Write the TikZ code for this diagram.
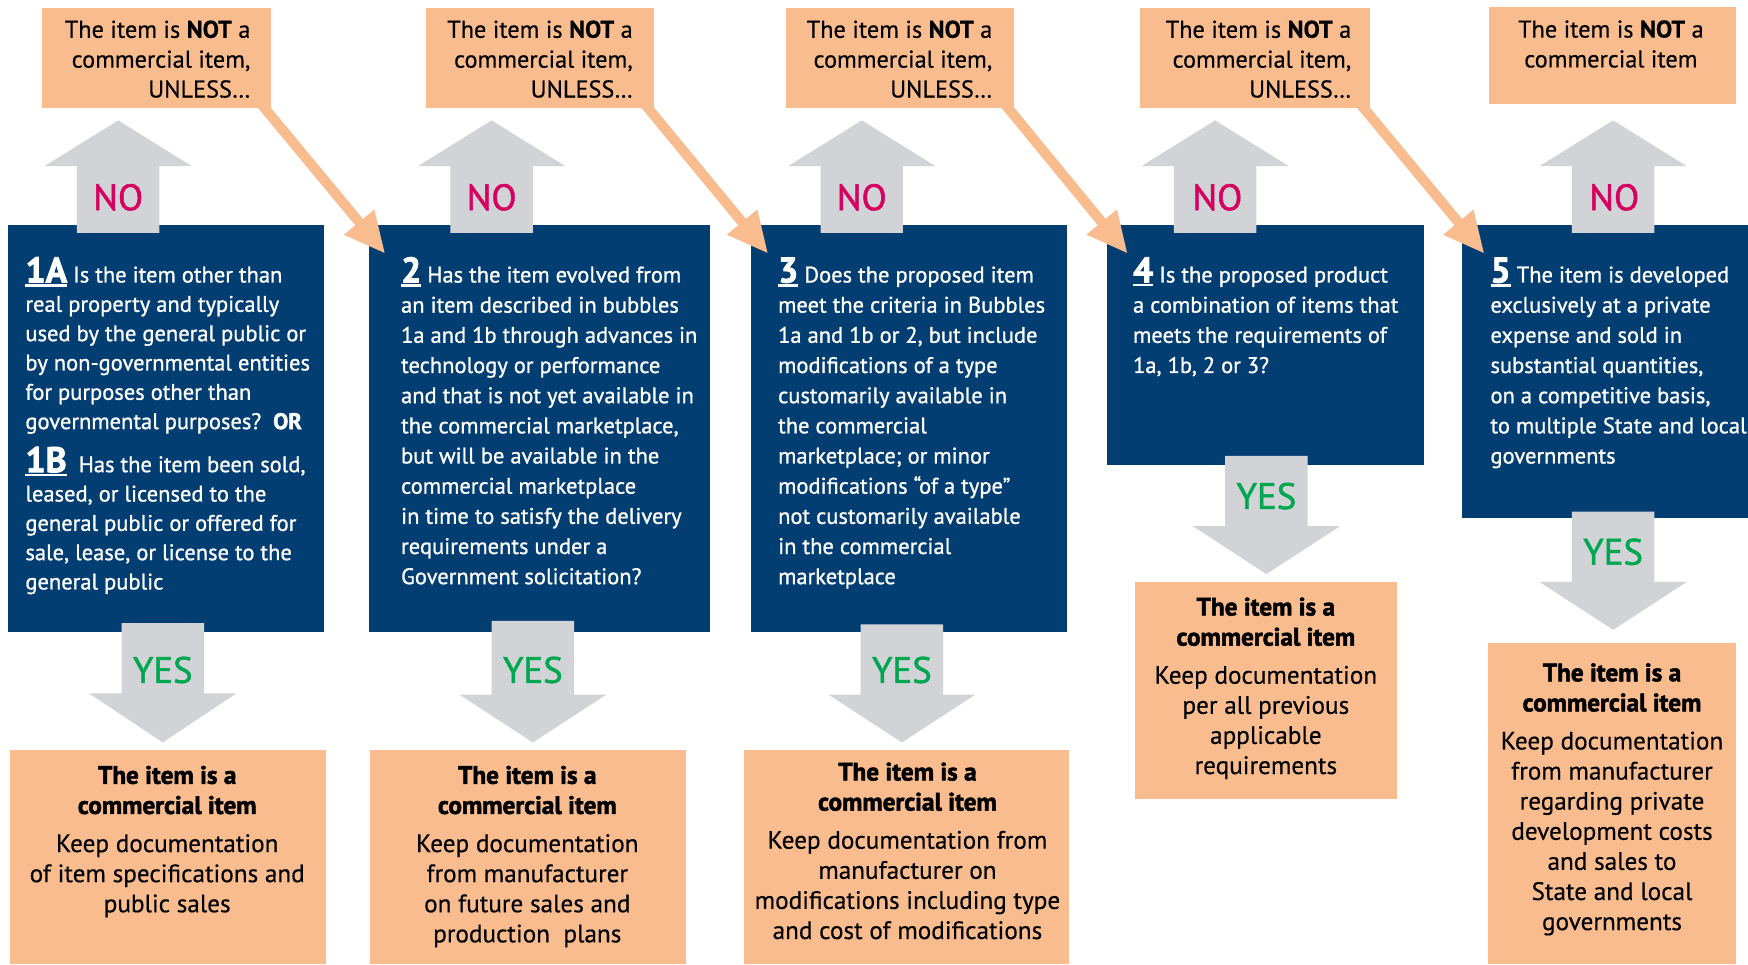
\documentclass[tikz,border=0pt]{standalone}
\usepackage{fontspec}
\setmainfont{PT Sans}
\newfontfamily\medf{PT Sans}[FakeBold=0.35]
\newfontfamily\semi{PT Sans}[FakeBold=0.9]
\newfontfamily\labf{PT Sans}[FakeBold=1.3]
\newfontfamily\heavy{PT Sans}[FakeBold=2]
\usetikzlibrary{arrows.meta,fit}
\definecolor{navy}{RGB}{3,62,115}
\definecolor{peach}{RGB}{248,188,142}
\definecolor{arrowgray}{RGB}{209,211,214}
\definecolor{nomag}{RGB}{214,0,96}
\definecolor{yesgreen}{RGB}{0,166,80}
\newcommand\ulnum[1]{{\heavy\bfseries\fontsize{16}{16}\selectfont\setbox0\hbox{#1}\rlap{\rule[-1.8pt]{\wd0}{1.1pt}}\box0}}
\newcommand\hd[1]{{\heavy\bfseries #1}}
\newcommand\tp{\rule{0pt}{12pt}}
\newcommand\grayup[4]{\fill[arrowgray] (#1,#2) -- (#1+66,#3) -- (#1+37,#3) -- (#1+37,#4) -- (#1-37,#4) -- (#1-37,#3) -- (#1-66,#3) -- cycle;}
\newcommand\graydown[4]{\fill[arrowgray] (#1-37,#2) -- (#1+37,#2) -- (#1+37,#3) -- (#1+66,#3) -- (#1,#4) -- (#1-66,#3) -- (#1-37,#3) -- cycle;}
\tikzset{
  qbox/.style={fill=navy, inner sep=0pt, draw=none},
  pbox/.style={fill=peach, inner sep=0pt, draw=none},
  qtext/.style={text=white, align=left, inner sep=0pt, anchor=north west, font=\semi\fontsize{10.1}{13.53}\selectfont},
  ntext/.style={text=black, inner sep=0pt, font=\medf\fontsize{10.9}{13.4}\selectfont},
  rtext/.style={text=black, align=center, inner sep=0pt, anchor=north, font=\medf\fontsize{11.3}{13.5}\selectfont},
  nolab/.style={text=nomag, inner sep=0pt, font=\labf\fontsize{16.5}{16.5}\selectfont},
  yeslab/.style={text=yesgreen, inner sep=0pt, font=\labf\fontsize{16.5}{16.5}\selectfont},
  diag/.style={draw=peach, line width=4.5pt, -{Triangle[length=18.4pt,width=16.3pt]}}
}
\begin{document}
\begin{tikzpicture}[x=0.5pt,y=-0.5pt]
\useasboundingbox (0,0) rectangle (1568,865);
% question boxes
\node[qbox, fit={(7,202) (291,567)}] (q1) {};
\node[qbox, fit={(331,202) (637,567)}] (q2) {};
\node[qbox, fit={(673.5,202) (957,567)}] (q3) {};
\node[qbox, fit={(993,202) (1277,417)}] (q4) {};
\node[qbox, fit={(1311,202) (1568,465)}] (q5) {};
% NOT boxes
\node[pbox, fit={(38,7) (243,97)}] (n1) {};
\node[pbox, fit={(382,7) (587,97)}] (n2) {};
\node[pbox, fit={(705,7) (910,97)}] (n3) {};
\node[pbox, fit={(1023,7) (1229,97)}] (n4) {};
\node[pbox, fit={(1336,6) (1557,93)}] (n5) {};
% result boxes
\node[pbox, fit={(9,673) (292,865)}] (r1) {};
\node[pbox, fit={(332,673) (615,865)}] (r2) {};
\node[pbox, fit={(667,673) (959,865)}] (r3) {};
\node[pbox, fit={(1018,522) (1253,717)}] (r4) {};
\node[pbox, fit={(1335,577) (1557,865)}] (r5) {};
% gray NO arrows
\grayup{106}{108}{149}{209}
\grayup{441}{108}{149}{209}
\grayup{773}{108}{149}{209}
\grayup{1090}{108}{149}{209}
\grayup{1447}{108}{149}{209}
% gray YES arrows
\graydown{146}{559}{622}{666}
\graydown{478}{557}{623}{666}
\graydown{809}{560}{623}{666}
\graydown{1136}{409}{472}{515}
\graydown{1447}{459}{522}{565}
% diagonal connectors
\coordinate (e2) at ([shift={(15,26)}]q2.north west);
\coordinate (e3) at ([shift={(16,26)}]q3.north west);
\coordinate (e4) at ([shift={(19,26)}]q4.north west);
\coordinate (e5) at ([shift={(21,26)}]q5.north west);
\draw[diag] ([shift={(-14,-10)}]n1.south east) -- (e2);
\draw[diag] ([shift={(-14,-10)}]n2.south east) -- (e3);
\draw[diag] ([shift={(-14,-10)}]n3.south east) -- (e4);
\draw[diag] ([shift={(-14,-10)}]n4.south east) -- (e5);
% labels
\node[nolab] (no1) at (106,177) {NO};
\node[nolab] (no2) at (441,177) {NO};
\node[nolab] (no3) at (773,177) {NO};
\node[nolab] (no4) at (1092,177) {NO};
\node[nolab] (no5) at (1448,177) {NO};
\node[yeslab] (yes1) at (146,601) {YES};
\node[yeslab] (yes2) at (478,601) {YES};
\node[yeslab] (yes3) at (809,601) {YES};
\node[yeslab] (yes4) at (1136,445) {YES};
\node[yeslab] (yes5) at (1447,495) {YES};
% NOT texts (top = first baseline - 24)
\node[ntext, align=right, anchor=north east] (u1) at (225,9.5) {\tp The item is \textbf{NOT} a\\commercial item,\\UNLESS\ldots};
\node[ntext, align=right, anchor=north east] (u2) at (568,9.5) {\tp The item is \textbf{NOT} a\\commercial item,\\UNLESS\ldots};
\node[ntext, align=right, anchor=north east] (u3) at (890.5,9.5) {\tp The item is \textbf{NOT} a\\commercial item,\\UNLESS\ldots};
\node[ntext, align=right, anchor=north east] (u4) at (1212.5,9.5) {\tp The item is \textbf{NOT} a\\commercial item,\\UNLESS\ldots};
\node[ntext, align=center, anchor=north] (u5) at (1445,9.3) {\tp The item is \textbf{NOT} a\\commercial item};
% question texts
\node[qtext, font=\semi\fontsize{10.1}{13.15}\selectfont] (t1) at (22.4,229) {\tp\ulnum{1A} Is the item other than\\
real property and typically\\
used by the general public or\\
by non-governmental entities\\
for purposes other than\\
governmental purposes?~~{\heavy\bfseries OR}\\[4.8pt]
\ulnum{1B}~~Has the item been sold,\\
leased, or licensed to the\\
general public or offered for\\
sale, lease, or license to the\\
general public};
\node[qtext] (t2) at (359.4,229) {\tp\ulnum{2} Has the item evolved from\\
an item described in bubbles\\
1a and 1b through advances in\\
technology or performance\\
and that is not yet available in\\
the commercial marketplace,\\
but will be available in the\\
commercial marketplace\\
in time to satisfy the delivery\\
requirements under a\\
Government solicitation?};
\node[qtext] (t3) at (697.6,229) {\tp\ulnum{3} Does the proposed item\\
meet the criteria in Bubbles\\
1a and 1b or 2, but include\\
modifications of a type\\
customarily available in\\
the commercial\\
marketplace; or minor\\
modifications “of a type”\\
not customarily available\\
in the commercial\\
marketplace};
\node[qtext] (t4) at (1016,229) {\tp\ulnum{4} Is the proposed product\\
a combination of items that\\
meets the requirements of\\
1a, 1b, 2 or 3?};
\node[qtext] (t5) at (1336.6,229) {\tp\ulnum{5} The item is developed\\
exclusively at a private\\
expense and sold in\\
substantial quantities,\\
on a competitive basis,\\
to multiple State and local\\
governments};
% result texts
\node[rtext] (v1) at (150,678.7) {\tp\hd{The item is a}\\\hd{commercial item}\\[3.6pt]
Keep documentation\\of item specifications and\\public sales};
\node[rtext] (v2) at (473,678.7) {\tp\hd{The item is a}\\\hd{commercial item}\\[3.6pt]
Keep documentation\\from manufacturer\\on future sales and\\production~ plans};
\node[rtext] (v3) at (814,675.7) {\tp\hd{The item is a}\\\hd{commercial item}\\[3.6pt]
Keep documentation from\\manufacturer on\\modifications including type\\and cost of modifications};
\node[rtext] (v4) at (1135.5,527.7) {\tp\hd{The item is a}\\\hd{commercial item}\\[3.6pt]
Keep documentation\\per all previous\\applicable\\requirements};
\node[rtext] (v5) at (1446,586.7) {\tp\hd{The item is a}\\\hd{commercial item}\\[3.6pt]
Keep documentation\\from manufacturer\\regarding private\\development costs\\and sales to\\State and local\\governments};
\end{tikzpicture}
\end{document}
